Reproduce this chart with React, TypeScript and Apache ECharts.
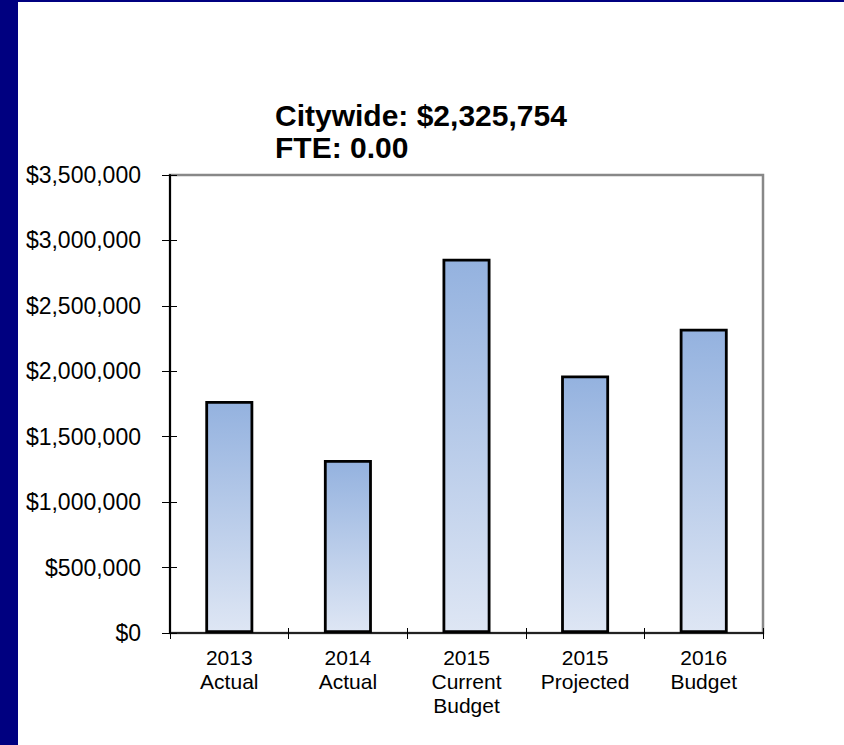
import React, { useEffect, useRef } from "react";
import * as echarts from "echarts";

const categories = ["2013\nActual", "2014\nActual", "2015\nCurrent\nBudget", "2015\nProjected", "2016\nBudget"];
const values = [1773000, 1322000, 2860000, 1968000, 2325754];
const titleLines = ["Citywide: $2,325,754", "FTE: 0.00"];

const fmt = (v: number) => "$" + Math.round(v).toLocaleString("en-US");

export default function App() {
  const ref = useRef<HTMLDivElement>(null);
  useEffect(() => {
    if (!ref.current) return;
    const chart = echarts.init(ref.current, undefined, { renderer: "svg" });
    const font = "Liberation Sans, Arial, sans-serif";
    chart.setOption({
      animation: false,
      backgroundColor: "#ffffff",
      textStyle: { fontFamily: font },
      title: {
        text: titleLines.join("\n"),
        left: 257,
        top: 97,
        padding: 0,
        textStyle: { fontSize: 30, fontWeight: "bold", color: "#000", lineHeight: 32, fontFamily: font },
      },
      grid: {
        left: 152,
        top: 173,
        right: 81,
        bottom: 112,
        show: true,
        borderColor: "#888888",
        borderWidth: 2.5,
        backgroundColor: "transparent",
      },
      xAxis: [
        {
          type: "category",
          data: categories,
          position: "bottom",
          axisLine: { show: true, lineStyle: { color: "#000", width: 1.5 } },
          axisTick: { show: true, length: 6, lineStyle: { color: "#000", width: 1 } },
          axisLabel: { color: "#000", fontSize: 21, lineHeight: 24, margin: 12, fontFamily: font, interval: 0 },
          splitLine: { show: false },
        },
        {
          type: "category",
          data: categories,
          position: "bottom",
          axisLine: { show: false },
          axisTick: { show: true, inside: true, length: 5, lineStyle: { color: "#000", width: 1 } },
          axisLabel: { show: false },
          splitLine: { show: false },
        },
      ],
      yAxis: [
        {
          type: "value",
          min: 0,
          max: 3500000,
          interval: 500000,
          axisLine: { show: true, lineStyle: { color: "#000", width: 2 } },
          axisTick: { show: true, length: 8, lineStyle: { color: "#000", width: 1 } },
          axisLabel: { color: "#000", fontSize: 23, margin: 29, formatter: fmt, fontFamily: font },
          splitLine: { show: false },
        },
        {
          type: "value",
          min: 0,
          max: 3500000,
          interval: 500000,
          position: "left",
          axisLine: { show: false },
          axisTick: { show: true, inside: true, length: 7, lineStyle: { color: "#000", width: 1 } },
          axisLabel: { show: false },
          splitLine: { show: false },
        },
      ],
      series: [
        {
          type: "bar",
          data: values,
          barWidth: 48,
          itemStyle: {
            color: new echarts.graphic.LinearGradient(0, 0, 0, 1, [
              { offset: 0, color: "#94B2DF" },
              { offset: 1, color: "#DEE6F4" },
            ]),
            borderColor: "#000",
            borderWidth: 2.8,
          },
        },
      ],
    });
    return () => chart.dispose();
  }, []);
  return (
    <div
      style={{
        position: "fixed",
        left: 0,
        top: 0,
        width: 844,
        height: 745,
        background: "#fff",
        boxSizing: "border-box",
        borderLeft: "18px solid #000080",
        borderTop: "2px solid #000080",
      }}
    >
      <div ref={ref} style={{ width: 826, height: 743 }} />
    </div>
  );
}
